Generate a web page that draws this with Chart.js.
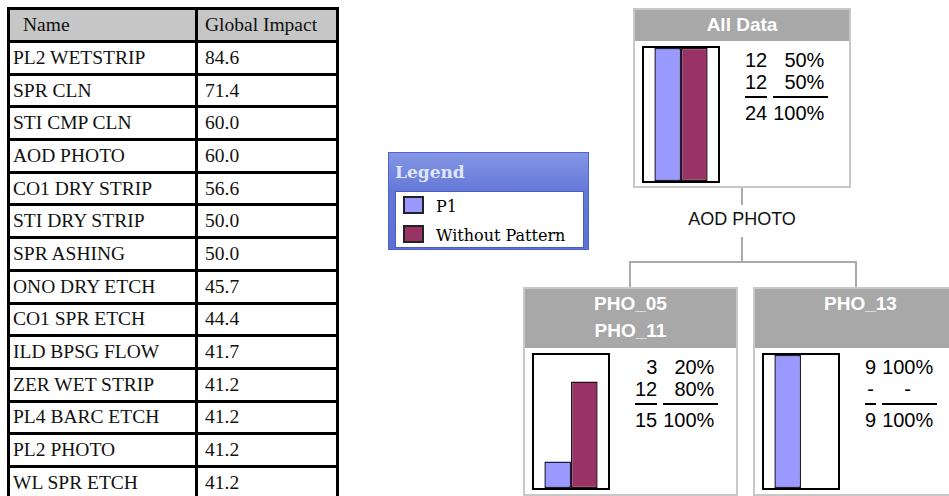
<!DOCTYPE html>
<html lang="en">
<head>
<meta charset="UTF-8">
<title>Decision tree</title>
<script src="https://cdn.jsdelivr.net/npm/chart.js@4.4.1/dist/chart.umd.min.js"></script>
<style>
    body { margin: 0; width: 949px; height: 496px; overflow: hidden; background: #fff; position: relative; }
    .abs { position: absolute; }
    #impact { left: 7px; top: 7px; border-collapse: collapse; font-family: "Liberation Serif", serif; font-size: 19.5px; color: #111; }
    #impact td { border: 3px solid #000; height: 29.7px; padding: 0 0 0 3px; white-space: nowrap; }
    #impact td.v { padding-left: 7px; }
    #impact tr.head td { background: #c6c6c6; height: 30px; }
    #impact tr.head td.n { padding-left: 13px; }
    .node { border: 2px solid #c8c8c8; background: #fff; box-sizing: border-box; }
    .node .hd { background: #a8a8a8; color: #fff; font: bold 19px "Liberation Sans", Arial, sans-serif; text-align: center; line-height: 27px; padding-top: 1px; box-sizing: border-box; }
    .frame { border: 2px solid #000; }
    .frame canvas { display: block; }
    .stats { font: 20px "Liberation Sans", Arial, sans-serif; color: #000; border-collapse: separate; border-spacing: 0; }
    .stats td { padding: 0; line-height: 22px; text-align: right; }
    .stats td.p { padding-left: 6px; }
    .stats td.p div, .stats td.p span { padding-right: 4px; }
    .stats tr.r2 td div { border-bottom: 2px solid #000; padding-bottom: 3px; }
    .stats tr.r3 td { padding-top: 4px; }
    .stats td.dash { text-align: center; }
    .ln { background: #aaa; }
    #legend { left: 388px; top: 152px; width: 201px; height: 98px; box-sizing: border-box; border: 1px solid #4e63cc;
              background: linear-gradient(#8496e4, #6478d8 40%, #5d71d4); }
    #legend .ttl { position: absolute; left: 6px; top: 9px; font: bold 17px "DejaVu Serif", serif; color: #dfe6fb; }
    #legend .pane { position: absolute; left: 6px; top: 38px; width: 187px; height: 55px; background: #fff; border: 1px solid #4a5dc0; }
    #legend .item { position: absolute; left: 7px; font: 16px "DejaVu Serif", serif; color: #000; line-height: 18px; }
    #legend .sw { display: inline-block; width: 17px; height: 14px; border: 2px solid #222; vertical-align: -2px; margin-right: 12px; }
</style>
</head>
<body>

<table id="impact" class="abs"></table>

<div id="legend" class="abs">
    <div class="ttl">Legend</div>
    <div class="pane" id="legendPane"></div>
</div>

<div id="tree"></div>

<script>
    // table on the left
    const stepNames = ['PL2 WETSTRIP', 'SPR CLN', 'STI CMP CLN', 'AOD PHOTO', 'CO1 DRY STRIP', 'STI DRY STRIP',
                       'SPR ASHING', 'ONO DRY ETCH', 'CO1 SPR ETCH', 'ILD BPSG FLOW', 'ZER WET STRIP',
                       'PL4 BARC ETCH', 'PL2 PHOTO', 'WL SPR ETCH'];
    const globalImpact = [84.6, 71.4, 60.0, 60.0, 56.6, 50.0, 50.0, 45.7, 44.4, 41.7, 41.2, 41.2, 41.2, 41.2];

    // tree data
    const seriesNames = ['P1', 'Without Pattern'];
    const seriesColors = ['#9999ff', '#993366'];
    const seriesBorders = ['#1c1c40', '#2a0e1c'];
    const nodeTitles = [['All Data'], ['PHO_05', 'PHO_11'], ['PHO_13']];
    const p1Counts = [12, 3, 9];
    const noPatternCounts = [12, 12, 0];
    const nodeAxisMax = [12, 15, 9];
    const splitLabel = 'AOD PHOTO';

    // table
    const tbl = document.getElementById('impact');
    let html = '<tr class="head"><td class="n" style="width:172px">Name</td><td class="v" style="width:131px">Global Impact</td></tr>';
    stepNames.forEach((n, i) => {
        html += '<tr><td>' + n + '</td><td class="v">' + globalImpact[i].toFixed(1) + '</td></tr>';
    });
    tbl.innerHTML = html;

    // legend
    const pane = document.getElementById('legendPane');
    seriesNames.forEach((s, i) => {
        const d = document.createElement('div');
        d.className = 'item';
        d.style.top = (4 + i * 29) + 'px';
        d.innerHTML = '<span class="sw" style="background:' + seriesColors[i] + '"></span>' + s;
        pane.appendChild(d);
    });

    // layout of the boxes
    const layout = [
        { left: 633, top: 8, width: 218, height: 180, head: 33 },
        { left: 523, top: 287, width: 215, height: 209, head: 61 },
        { left: 753, top: 287, width: 215, height: 209, head: 61 }
    ];
    const tree = document.getElementById('tree');

    function addLine(x, y, w, h) {
        const l = document.createElement('div');
        l.className = 'abs ln';
        Object.assign(l.style, { left: x + 'px', top: y + 'px', width: w + 'px', height: h + 'px' });
        tree.appendChild(l);
    }

    function fmtPct(c, total) {
        return c ? Math.round(c / total * 100) + '%' : '-';
    }

    nodeTitles.forEach((title, k) => {
        const L = layout[k];
        const box = document.createElement('div');
        box.className = 'abs node';
        Object.assign(box.style, { left: L.left + 'px', top: L.top + 'px', width: L.width + 'px', height: L.height + 'px' });
        box.innerHTML = '<div class="hd" style="height:' + (L.head - 2) + 'px">' + title.join('<br>') + '</div>';
        tree.appendChild(box);

        const frame = document.createElement('div');
        frame.className = 'abs frame';
        Object.assign(frame.style, { left: (L.left + 9) + 'px', top: (L.top + L.head + 5) + 'px' });
        const cv = document.createElement('canvas');
        cv.width = 74; cv.height = 133;
        frame.appendChild(cv);
        tree.appendChild(frame);

        const a = p1Counts[k], b = noPatternCounts[k], t = a + b;
        const st = document.createElement('table');
        st.className = 'abs stats';
        Object.assign(st.style, { left: (L.left + 112) + 'px', top: (L.top + L.head + 8) + 'px' });
        const ctr = v => v === '-' ? ' style="text-align:center"' : '';
        st.innerHTML =
            '<tr><td' + ctr(a || '-') + '>' + (a || '-') + '</td><td class="p"' + ctr(fmtPct(a, t)) + '><span>' + fmtPct(a, t) + '</span></td></tr>' +
            '<tr class="r2"><td><div' + ctr(b || '-') + '>' + (b || '-') + '</div></td>' +
            '<td class="p"><div' + ctr(fmtPct(b, t)) + '>' + fmtPct(b, t) + '</div></td></tr>' +
            '<tr class="r3"><td>' + t + '</td><td class="p"><span>100%</span></td></tr>';
        tree.appendChild(st);

        new Chart(cv.getContext('2d'), {
            type: 'bar',
            data: {
                labels: [title.join(' ')],
                datasets: seriesNames.map((s, i) => ({
                    label: s,
                    data: [i === 0 ? a : b],
                    backgroundColor: seriesColors[i],
                    borderColor: seriesBorders[i],
                    borderWidth: 1.5,
                    borderSkipped: false
                }))
            },
            options: {
                responsive: false,
                animation: false,
                layout: { padding: 0 },
                datasets: { bar: { categoryPercentage: 0.72, barPercentage: 1 } },
                scales: {
                    x: { display: false },
                    y: { display: false, min: 0, max: nodeAxisMax[k] }
                },
                plugins: { legend: { display: false }, tooltip: { enabled: false } }
            }
        });
    });

    // connectors
    addLine(741, 188, 2, 17);
    addLine(741, 237, 2, 26);
    addLine(629, 261, 228, 2);
    addLine(629, 261, 2, 26);
    addLine(855, 261, 2, 26);
    const sl = document.createElement('div');
    sl.className = 'abs';
    Object.assign(sl.style, { left: '642px', width: '200px', top: '209px', textAlign: 'center',
        font: '18px "Liberation Sans", Arial, sans-serif', color: '#111' });
    sl.textContent = splitLabel;
    tree.appendChild(sl);
</script>
</body>
</html>
